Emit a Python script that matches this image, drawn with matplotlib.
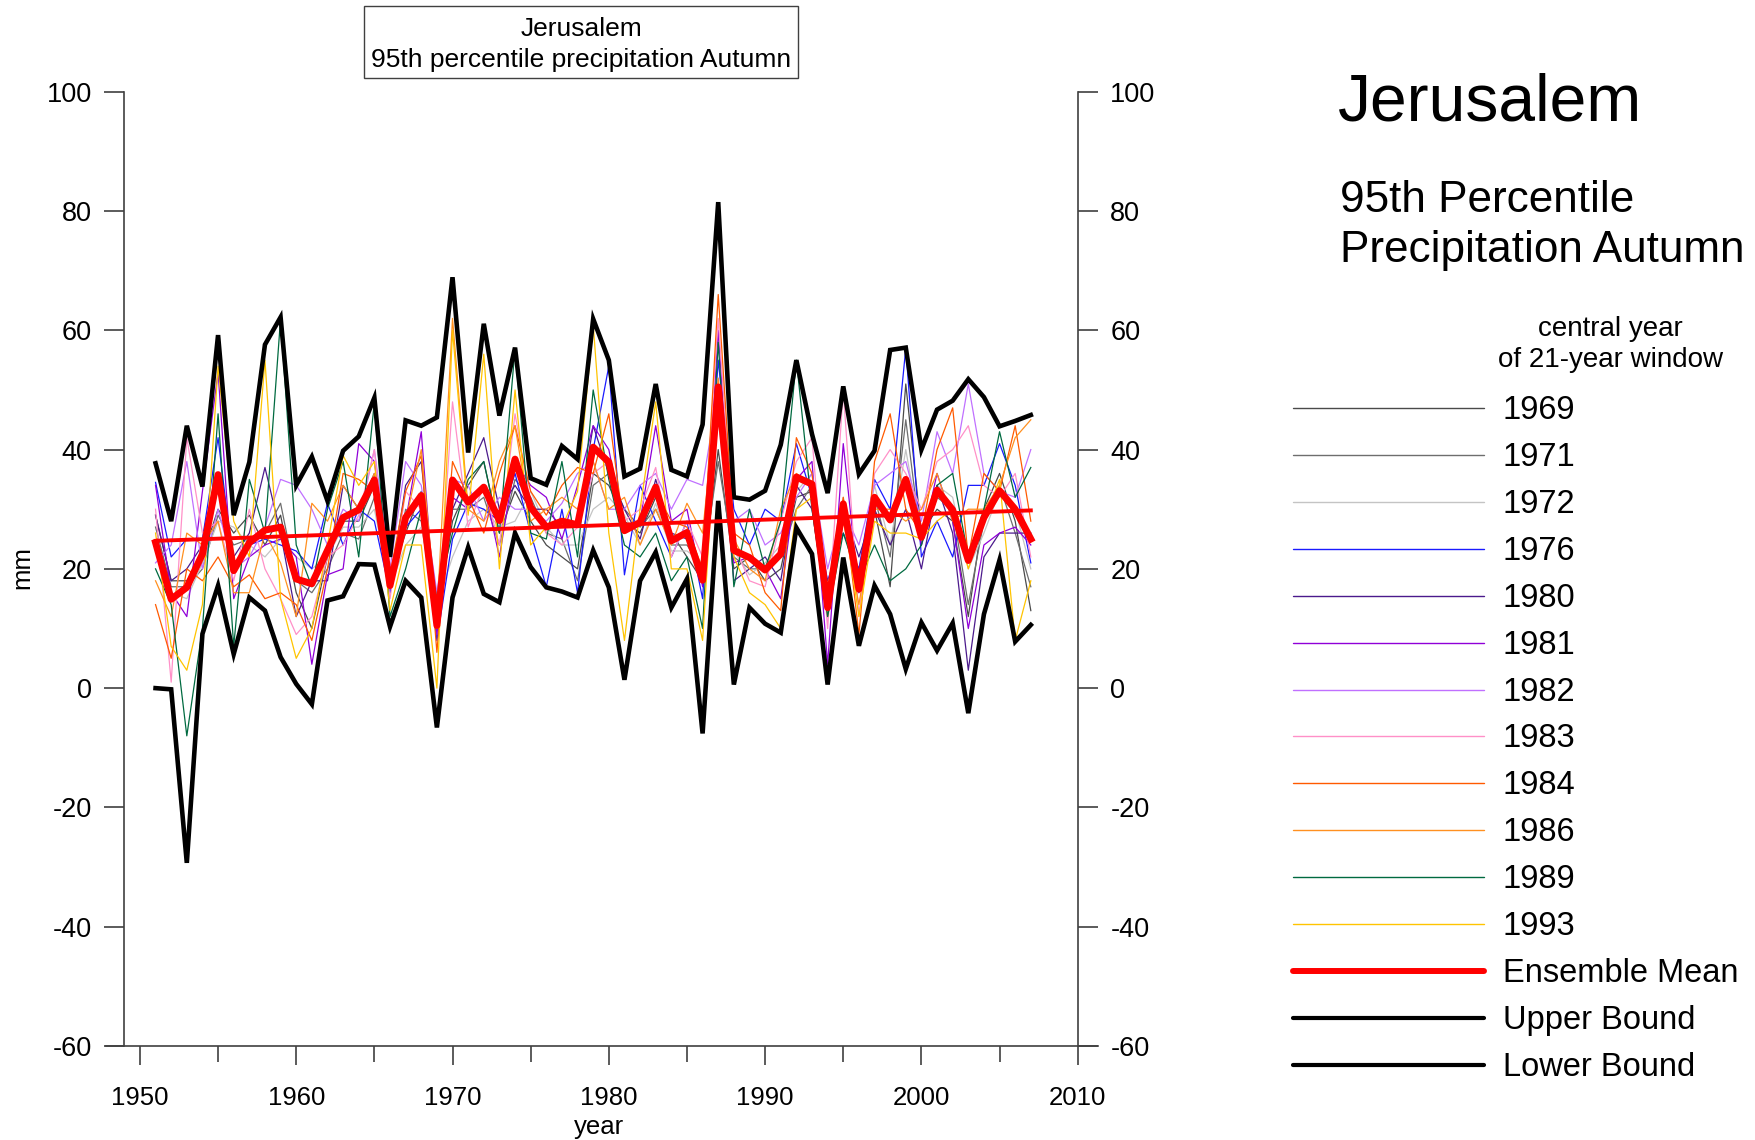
import numpy as np
import matplotlib.pyplot as plt
from matplotlib.lines import Line2D
from matplotlib.patches import Rectangle

plt.rcParams['font.family'] = ['Liberation Sans', 'DejaVu Sans']
plt.rcParams['axes.unicode_minus'] = False

years = np.arange(1951, 2008)

# 12 ensemble members, labelled by the central year of their 21-year window
m1969 = [29, 18, 18, 22, 30, 26, 29, 24, 29, 16, 10, 22, 28, 28, 34, 18, 26, 33, 12, 28,
         34, 38, 26, 33, 28, 24, 22, 20, 36, 34, 28, 26, 32, 26, 22, 18, 40, 20, 22, 18,
         20, 32, 33, 14, 28, 18, 30, 17, 51, 26, 30, 28, 12, 30, 36, 28, 13]
m1971 = [27, 17, 17, 20, 29, 24, 25, 26, 31, 18, 16, 20, 26, 25, 32, 16, 30, 28, 10, 30,
         30, 32, 24, 35, 32, 26, 25, 18, 34, 36, 30, 27, 30, 24, 24, 20, 38, 22, 20, 20,
         22, 30, 34, 16, 30, 16, 32, 22, 45, 24, 32, 30, 14, 28, 34, 26, 17]
m1972 = [24, 16, 15, 21, 28, 27, 24, 22, 25, 22, 20, 22, 27, 27, 30, 17, 24, 27, 14, 22,
         28, 30, 27, 28, 33, 27, 24, 24, 30, 32, 29, 24, 31, 23, 23, 21, 45, 23, 19, 21,
         24, 33, 36, 15, 32, 18, 34, 24, 40, 25, 34, 32, 20, 26, 33, 30, 20]
m1976 = [34.5, 22, 25, 25, 42, 20, 24, 25, 24, 23, 20, 31, 24, 30, 28, 16, 27, 30, 8, 25,
         31, 30, 28, 36, 26, 17, 30, 16, 40, 54, 19, 34, 28, 22, 28, 15, 55, 30, 24, 30,
         28, 41, 32, 18, 26, 20, 35, 30, 57, 22, 28, 22, 34, 34, 41, 34, 21]
m1980 = [29, 18, 20, 24, 35, 22, 26, 37, 26, 12, 18, 18, 34, 30, 36, 17, 34, 38, 12, 30,
         36, 42, 30, 34, 30, 30, 27, 28, 44, 36, 30, 25, 35, 26, 25, 19, 48, 18, 20, 22,
         18, 34, 30, 12, 30, 22, 30, 24, 30, 20, 34, 26, 3, 22, 26, 26, 26]
m1981 = [34, 16, 12, 33, 53, 15, 22, 24, 25, 22, 4, 19, 20, 41, 38, 19, 28, 43, 9, 32,
         30, 34, 22, 38, 34, 32, 25, 34, 44, 40, 27, 28, 44, 28, 30, 17, 60, 21, 22, 20,
         15, 35, 38, 4, 41, 16, 32, 28, 34, 24, 36, 28, 10, 24, 26, 27, 24]
m1982 = [21, 24, 38, 20, 30, 20, 22, 27, 35, 34, 30, 24, 30, 28, 40, 20, 38, 34, 16, 35,
         34, 28, 32, 30, 30, 28, 31, 36, 38, 30, 30, 34, 36, 30, 35, 34, 50, 28, 30, 24,
         26, 32, 36, 20, 30, 24, 34, 36, 38, 28, 43, 36, 51, 36, 33, 32, 40]
m1983 = [30, 1, 42, 26, 28, 18, 30, 20, 15, 9, 12, 22, 24, 29, 40, 15, 33, 30, 10, 48,
         27, 34, 24, 46, 31, 26, 24, 27, 36, 38, 28, 30, 37, 22, 28, 22, 62, 24, 18, 17,
         28, 38, 42, 10, 50, 12, 36, 40, 36, 30, 38, 40, 44, 34, 32, 36, 22]
m1984 = [14, 5, 20, 18, 22, 17, 19, 15, 16, 14, 8, 20, 36, 35, 33, 19, 33, 39, 6, 38,
         32, 26, 36, 44, 33, 29, 34, 37, 36, 46, 26, 28, 33, 28, 27, 20, 66, 26, 24, 16,
         13, 42, 36, 14, 32, 9, 38, 46, 30, 26, 40, 47, 22, 36, 33, 44, 28]
m1986 = [18, 12, 26, 24, 28, 16, 16, 26, 21, 12, 31, 28, 34, 30, 36, 18, 28, 40, 12, 62,
         30, 28, 38, 44, 28, 30, 32, 30, 38, 30, 32, 24, 30, 24, 31, 26, 52, 25, 20, 18,
         30, 36, 34, 12, 28, 14, 30, 30, 28, 30, 36, 28, 30, 30, 34, 42, 45]
m1989 = [20, 14, -8, 10, 46, 7, 35, 26, 62, 24, 17, 30, 38, 22, 48, 12, 20, 30, 15, 26,
         35, 38, 26, 57, 26, 25, 38, 22, 50, 35, 24, 22, 26, 18, 22, 10, 58, 17, 30, 20,
         28, 55, 30, 12, 26, 18, 24, 18, 20, 24, 34, 36, 22, 30, 43, 32, 37]
m1993 = [26, 7, 3, 14, 54, 28, 22, 55, 15, 5, 10, 24, 39, 34, 38, 13, 24, 24, 0, 60,
         29, 56, 20, 50, 24, 27, 27, 33, 61, 26, 8, 30, 48, 20, 20, 8, 50, 22, 16, 14,
         10, 30, 32, 17, 30, 12, 28, 26, 26, 25, 28, 30, 20, 28, 35, 8, 18]

members = [m1969, m1971, m1972, m1976, m1980, m1981,
           m1982, m1983, m1984, m1986, m1989, m1993]
member_labels = ['1969', '1971', '1972', '1976', '1980', '1981',
                 '1982', '1983', '1984', '1986', '1989', '1993']
member_colors = ['#4a4a4a', '#6e6e6e', '#c4c4c4', '#1a1aff', '#4b1a8c', '#9000d8',
                 '#c070ff', '#ff90c8', '#ff5a00', '#ff9020', '#006a40', '#ffc400']

ens_mean = [24.4, 14.9, 16.9, 22.5, 35.8, 19.7, 24.4, 26.5, 27.0, 18.3,
            17.5, 23.1, 28.6, 29.9, 34.9, 17.2, 28.6, 32.3, 10.5, 34.9,
            31.2, 33.7, 28.1, 38.4, 30.3, 27.0, 28.0, 27.4, 40.4, 37.9,
            26.4, 27.8, 33.7, 24.7, 26.1, 18.1, 50.5, 23.1, 21.9, 19.8,
            22.5, 35.4, 34.2, 13.5, 30.9, 16.6, 32.0, 28.2, 35.0, 25.3,
            33.2, 29.9, 21.4, 28.6, 33.1, 30.0, 25.0]
upper = [37.7, 28.0, 44.0, 33.8, 59.2, 29.0, 37.9, 57.6, 62.2, 34.0,
         38.8, 31.4, 39.8, 42.2, 48.7, 22.0, 44.9, 44.0, 45.4, 68.9,
         39.5, 61.1, 45.7, 57.1, 35.2, 34.1, 40.6, 38.4, 61.9, 55.0,
         35.5, 36.8, 51.0, 36.6, 35.5, 44.2, 81.5, 32.0, 31.6, 33.1,
         40.8, 55.0, 42.6, 32.7, 50.6, 35.9, 39.8, 56.7, 57.1, 40.0,
         46.7, 48.2, 51.8, 48.8, 43.9, 44.8, 45.8]
lower = [0.0, -0.2, -29.3, 9.1, 17.2, 5.7, 15.2, 13.0, 5.2, 0.7,
         -2.7, 14.7, 15.4, 20.8, 20.7, 10.3, 18.0, 15.2, -6.6, 15.2,
         23.6, 15.8, 14.4, 26.0, 20.3, 16.9, 16.2, 15.2, 23.1, 16.9,
         1.4, 18.0, 22.8, 13.5, 18.3, -7.6, 31.4, 0.6, 13.5, 10.8,
         9.3, 26.9, 22.5, 0.6, 21.9, 7.1, 17.2, 12.4, 3.2, 11.0,
         6.3, 10.9, -4.2, 12.4, 21.5, 7.8, 10.6]

# linear trend of the ensemble mean, first and last year
trend = [24.7, 29.8]

fig = plt.figure(figsize=(17.56, 11.40), dpi=100)
ax = fig.add_axes([0.0601, 0.0825, 0.5652, 0.837])

for vals, col in zip(members, member_colors):
    ax.plot(years, vals, color=col, lw=0.9, zorder=2)
ax.plot(years, upper, color='black', lw=3.3, solid_joinstyle='miter', zorder=3)
ax.plot(years, lower, color='black', lw=3.3, solid_joinstyle='miter', zorder=3)
ax.plot(years, ens_mean, color='#ff0000', lw=5.0, solid_joinstyle='round', zorder=4)
ax.plot([years[0], years[-1]], trend, color='#ff0000', lw=2.8, zorder=5)

ax.set_xlim(1947.8, 2011.3)
ax.set_ylim(-60, 100)
ax.spines['top'].set_visible(False)
ax.spines['left'].set_position(('data', 1949))
ax.spines['right'].set_position(('data', 2010))
for s in ['left', 'right', 'bottom']:
    ax.spines[s].set_color('#404040')
    ax.spines[s].set_linewidth(1.2)

ax.set_yticks(np.arange(-60, 101, 20))
ax.set_xticks(np.arange(1950, 2011, 10))
ax.set_xticks(np.arange(1955, 2010, 10), minor=True)
ax.tick_params(axis='y', direction='out', length=14.5, width=1.2, color='#404040',
               left=True, right=True, labelleft=True, labelright=True,
               labelsize=19.5, pad=9)
ax.tick_params(axis='x', which='major', direction='out', length=13.7, width=1.2,
               color='#404040', labelsize=18.5, pad=15)
ax.tick_params(axis='x', which='minor', direction='out', length=11.5, width=1.2,
               color='#404040')

fig.text(0.341, 0.011, 'year', ha='center', va='center', fontsize=18.5)
fig.text(0.0128, 0.502, 'mm', ha='center', va='center', rotation=90, fontsize=18.5)

# boxed title above the plot
fig.add_artist(Rectangle((0.2073, 0.9312), 0.2471, 0.0639, transform=fig.transFigure,
                         facecolor='white', edgecolor='#404040', lw=1.0))
fig.text(0.3309, 0.9743, 'Jerusalem', ha='center', va='center', fontsize=19)
fig.text(0.3309, 0.9471, '95th percentile precipitation Autumn', ha='center',
         va='center', fontsize=19)

# headings on the right
fig.text(0.762, 0.9094, 'Jerusalem', ha='left', va='center', fontsize=47.5)
fig.text(0.763, 0.8245, '95th Percentile', ha='left', va='center', fontsize=31.8)
fig.text(0.763, 0.7800, 'Precipitation Autumn', ha='left', va='center', fontsize=31.8)
fig.text(0.9169, 0.7118, 'central year', ha='center', va='center', fontsize=20)
fig.text(0.9169, 0.6838, 'of 21-year window', ha='center', va='center', fontsize=20)

# legend
entries = [(lab, col, 1.0) for lab, col in zip(member_labels, member_colors)]
entries += [('Ensemble Mean', '#ff0000', 4.3), ('Upper Bound', 'black', 3.0),
            ('Lower Bound', 'black', 3.0)]
for i, (lab, col, lw) in enumerate(entries):
    y = 1 - (407.7 + i * 46.97) / 1140
    fig.add_artist(Line2D([0.7363, 0.8451], [y, y], transform=fig.transFigure,
                          color=col, lw=lw, solid_capstyle='round'))
    fig.text(0.8559, y - 0.0022, lab, ha='left', va='center', fontsize=23.5)

fig.savefig('out.png', dpi=100)
